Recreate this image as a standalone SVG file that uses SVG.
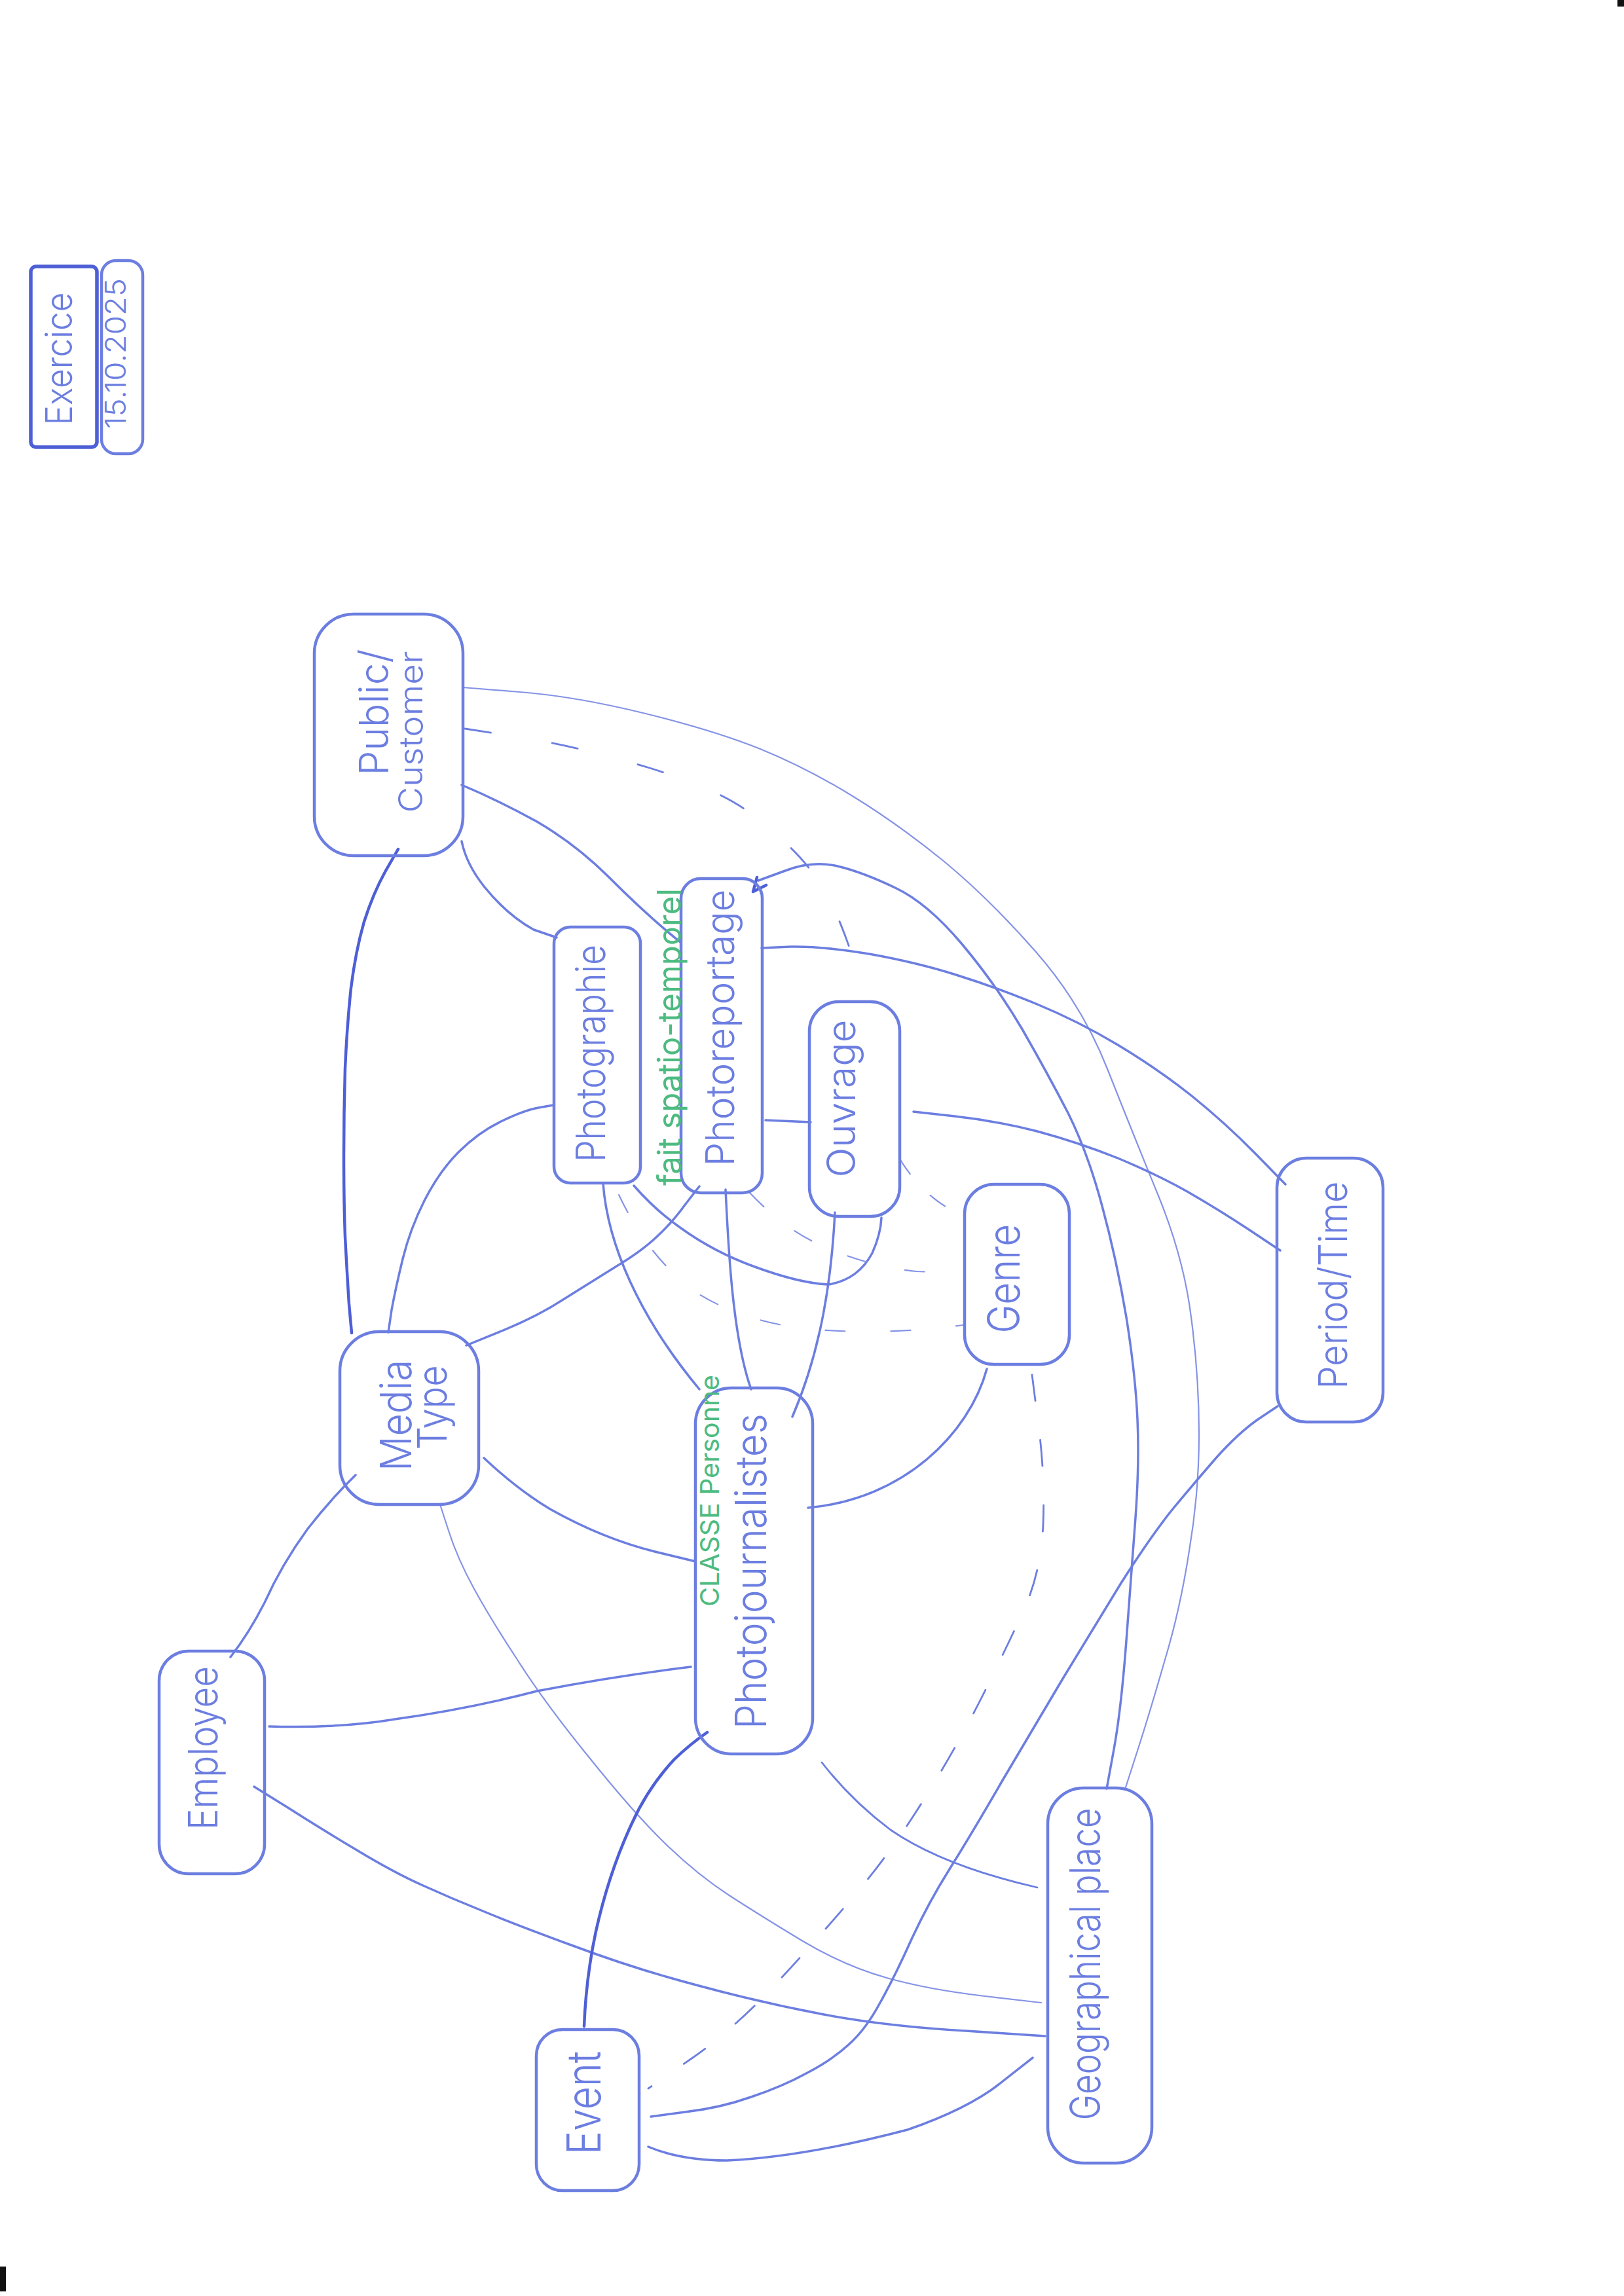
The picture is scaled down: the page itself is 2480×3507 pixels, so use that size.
<svg xmlns="http://www.w3.org/2000/svg" width="2480" height="3507" viewBox="0 0 2480 3507">
<style>
.box{fill:none;stroke:#6c7ee0;stroke-width:4.5;stroke-linejoin:round}
.ln{fill:none;stroke:#6c7ee0;stroke-width:3.5;stroke-linecap:round;stroke-linejoin:round}
.dk{stroke:#4e5fd6;stroke-width:4.5}
.thin{stroke:#8593e6;stroke-width:2.2}
.mid{stroke-width:2.8}
.dash{stroke-dasharray:40 60}
.dash2{stroke-dasharray:28 45}
.lbl{font-family:"Inter","Open Sans","Liberation Sans",sans-serif;font-weight:300;fill:#6c7ee0;text-anchor:middle}
.grn{fill:#4dbb80;font-weight:400}
</style>
<rect width="2480" height="3507" fill="#ffffff"/>
<rect x="0" y="3462" width="9" height="38" fill="#111"/>
<rect x="2470" y="0" width="10" height="10" fill="#111"/>

<g id="connectors">
  <path class="ln dk" d="M 608 1297 L 589 1330 Q 570 1364 556 1408 Q 543 1453 536 1509 Q 530 1565 527 1632 Q 525 1700 525 1767 Q 525 1834 527 1889 Q 530 1945 533 1992 L 537 2036"/>
  <path class="ln" d="M 705 1285 Q 712 1320 740 1355 Q 775 1398 815 1420 L 850 1432"/>
  <path class="ln" d="M 705 1199 Q 760 1222 820 1255 Q 880 1290 930 1340 Q 990 1400 1040 1440"/>
  <path class="ln thin" d="M 707 1050 L 794 1057 Q 881 1064 986 1090 Q 1091 1116 1161 1144 Q 1232 1173 1302 1216 Q 1372 1259 1442 1316 Q 1512 1374 1582 1454 Q 1653 1535 1692 1635 Q 1732 1736 1770 1829 Q 1808 1923 1819 2012 Q 1831 2102 1831 2191 Q 1831 2280 1816 2369 Q 1802 2459 1779 2535 Q 1757 2612 1738 2671 L 1719 2730"/>
  <path class="ln mid" style="stroke-dasharray:40 95" d="M 710 1113 L 800 1127 Q 890 1142 992 1173 Q 1095 1205 1140 1238 Q 1186 1271 1222 1310 Q 1258 1350 1279 1400 Q 1300 1450 1309 1488 L 1318 1527"/>
  <path class="ln" d="M 1158 1345 L 1199 1330 Q 1240 1314 1279 1323 Q 1317 1332 1367 1356 Q 1416 1379 1469 1442 Q 1521 1504 1561 1572 Q 1600 1640 1631 1700 Q 1661 1760 1683 1842 Q 1705 1923 1720 2012 Q 1734 2100 1737 2168 Q 1740 2236 1734 2318 Q 1728 2400 1720 2506 Q 1712 2612 1701 2672 L 1690 2732"/>
  <path class="ln dk" d="M 1150 1362 l 6 -22 M 1150 1362 l 20 -10"/>
  <path class="ln" d="M 1163 1448 L 1208 1446 Q 1254 1445 1327 1457 Q 1400 1470 1460 1489 Q 1521 1508 1584 1534 Q 1647 1560 1707 1596 Q 1767 1632 1820 1674 Q 1872 1716 1917 1762 L 1963 1809"/>
  <path class="ln" d="M 1169 1711 L 1238 1714"/>
  <path class="ln" d="M 1068 1812 L 1047 1839 Q 1027 1867 1003 1889 Q 980 1911 940 1935 Q 900 1960 860 1985 Q 820 2011 766 2033 L 712 2055"/>
  <path class="ln" d="M 1108 1817 C 1112 1900 1118 2040 1147 2122"/>
  <path class="ln" d="M 845 1688 L 822 1692 Q 800 1696 765 1713 Q 730 1730 700 1760 Q 671 1789 648 1834 Q 626 1878 615 1923 Q 604 1968 598 2001 L 593 2035"/>
  <path class="ln" d="M 921 1808 C 928 1900 975 2010 1068 2122"/>
  <path class="ln" d="M 968 1811 Q 1000 1848 1040 1876 Q 1090 1912 1150 1934 Q 1220 1960 1265 1962 Q 1310 1955 1332 1914 Q 1345 1885 1346 1860"/>
  <path class="ln" d="M 1395 1698 L 1458 1705 Q 1521 1712 1584 1728 Q 1647 1745 1707 1769 Q 1767 1794 1813 1820 Q 1860 1847 1907 1878 L 1955 1910"/>
  <path class="ln" d="M 1275 1852 C 1270 1950 1255 2060 1210 2164"/>
  <path class="ln" d="M 1507 2091 C 1480 2190 1380 2290 1234 2303"/>
  <path class="ln mid dash" d="M 1576 2100 L 1586 2178 Q 1596 2255 1593 2328 Q 1590 2400 1564 2458 Q 1538 2515 1499 2593 Q 1460 2670 1410 2750 Q 1360 2830 1305 2895 Q 1250 2960 1185 3030 Q 1120 3100 1055 3145 L 990 3190"/>
  <path class="ln thin dash2" d="M 1374 1770 Q 1410 1830 1470 1857"/>
  <path class="ln thin" style="stroke-dasharray:30 60" d="M 1145 1822 Q 1200 1880 1260 1905 Q 1330 1935 1400 1942 L 1470 1945"/>
  <path class="ln thin" style="stroke-dasharray:30 70" d="M 945 1825 Q 990 1920 1060 1972 Q 1130 2018 1234 2030 Q 1355 2040 1470 2024"/>
  <path class="ln" d="M 543 2253 Q 505 2290 470 2335 Q 430 2390 404 2448 Q 380 2495 352 2531"/>
  <path class="ln" d="M 739 2227 Q 790 2275 840 2305 Q 920 2350 1000 2370 L 1062 2385"/>
  <path class="ln thin" d="M 672 2298 L 685 2338 Q 698 2379 723 2425 Q 748 2471 790 2535 Q 831 2600 901 2686 Q 971 2773 1019 2819 Q 1067 2865 1115 2896 Q 1163 2927 1226 2965 Q 1290 3003 1354 3021 Q 1418 3039 1504 3049 L 1590 3059"/>
  <path class="ln mid" d="M 1255 2692 Q 1300 2750 1360 2795 Q 1440 2850 1584 2883"/>
  <path class="ln" d="M 411 2637 Q 520 2640 603 2626 Q 717 2610 820 2583 Q 940 2560 1055 2546"/>
  <path class="ln" d="M 388 2729 L 438 2760 Q 488 2792 545 2826 Q 603 2861 646 2880 Q 690 2900 735 2918 Q 780 2937 875 2972 Q 971 3008 1067 3033 Q 1163 3059 1258 3077 Q 1354 3095 1475 3102 L 1596 3110"/>
  <path class="ln dk" d="M 1080 2646 Q 1054 2664 1030 2687 Q 990 2730 965 2785 Q 930 2860 910 2950 Q 895 3020 892 3095"/>
  <path class="ln" d="M 994 3233 L 1046 3226 Q 1099 3220 1147 3203 Q 1195 3187 1233 3166 Q 1271 3146 1296 3123 Q 1322 3100 1344 3059 Q 1367 3018 1392 2962 Q 1418 2906 1450 2855 Q 1482 2804 1530 2721 Q 1579 2638 1623 2564 Q 1668 2490 1712 2418 Q 1757 2347 1790 2306 Q 1824 2265 1857 2227 Q 1891 2189 1921 2168 L 1951 2148"/>
  <path class="ln" d="M 990 3279 Q 1040 3300 1110 3300 Q 1226 3295 1386 3253 Q 1481 3220 1530 3180 L 1577 3143"/>
</g>

<g id="exercice">
  <rect class="box" style="stroke:#4e5fd6;stroke-width:5.5" x="47" y="407" width="101" height="276" rx="8"/>
  <text class="lbl" font-size="56" textLength="203" lengthAdjust="spacingAndGlyphs" transform="translate(110,548) rotate(-90)">Exercice</text>
</g>
<g id="date">
  <rect class="box" x="155" y="398" width="63" height="295" rx="22"/>
  <text class="lbl" font-size="44" textLength="230" lengthAdjust="spacingAndGlyphs" transform="translate(192,540) rotate(-90)">15.10.2025</text>
</g>
<g id="public-customer">
  <rect class="box" x="480" y="938" width="227" height="369" rx="60"/>
  <text class="lbl" font-size="62" textLength="193" lengthAdjust="spacingAndGlyphs" transform="translate(593,1088) rotate(-90)">Public/</text>
  <text class="lbl" font-size="50" textLength="247" lengthAdjust="spacingAndGlyphs" transform="translate(645,1118) rotate(-90)">Customer</text>
</g>
<g id="photographie">
  <rect class="box" x="846" y="1416" width="132" height="391" rx="25"/>
  <text class="lbl" font-size="62" textLength="332" lengthAdjust="spacingAndGlyphs" transform="translate(924,1609) rotate(-90)">Photographie</text>
</g>
<g id="photoreportage">
  <rect class="box" x="1040" y="1342" width="124" height="480" rx="30"/>
  <text class="lbl grn" font-size="50" textLength="454" lengthAdjust="spacingAndGlyphs" transform="translate(1040,1584) rotate(-90)">fait spatio-temporel</text>
  <text class="lbl" font-size="60" textLength="423" lengthAdjust="spacingAndGlyphs" transform="translate(1121,1570) rotate(-90)">Photoreportage</text>
</g>
<g id="ouvrage">
  <rect class="box" x="1236" y="1530" width="138" height="328" rx="45"/>
  <text class="lbl" font-size="60" textLength="241" lengthAdjust="spacingAndGlyphs" transform="translate(1306,1678) rotate(-90)">Ouvrage</text>
</g>
<g id="genre">
  <rect class="box" x="1473" y="1809" width="160" height="275" rx="45"/>
  <text class="lbl" font-size="68" textLength="167" lengthAdjust="spacingAndGlyphs" transform="translate(1557,1953) rotate(-90)">Genre</text>
</g>
<g id="period-time">
  <rect class="box" x="1950" y="1769" width="162" height="403" rx="45"/>
  <text class="lbl" font-size="60" textLength="317" lengthAdjust="spacingAndGlyphs" transform="translate(2057,1963) rotate(-90)">Period/Time</text>
</g>
<g id="media-type">
  <rect class="box" x="519" y="2034" width="212" height="264" rx="60"/>
  <text class="lbl" font-size="66" textLength="170" lengthAdjust="spacingAndGlyphs" transform="translate(628,2162) rotate(-90)">Media</text>
  <text class="lbl" font-size="62" textLength="129" lengthAdjust="spacingAndGlyphs" transform="translate(682,2150) rotate(-90)">Type</text>
</g>
<g id="employee">
  <rect class="box" x="243" y="2522" width="161" height="340" rx="45"/>
  <text class="lbl" font-size="62" textLength="250" lengthAdjust="spacingAndGlyphs" transform="translate(332,2670) rotate(-90)">Employee</text>
</g>
<g id="photojournalistes">
  <rect class="box" x="1062" y="2120" width="179" height="559" rx="55"/>
  <text class="lbl grn" font-size="40" textLength="354" lengthAdjust="spacingAndGlyphs" transform="translate(1098,2277) rotate(-90)">CLASSE Personne</text>
  <text class="lbl" font-size="66" textLength="482" lengthAdjust="spacingAndGlyphs" transform="translate(1170,2400) rotate(-90)">Photojournalistes</text>
</g>
<g id="event">
  <rect class="box" x="819" y="3100" width="157" height="246" rx="40"/>
  <text class="lbl" font-size="72" textLength="158" lengthAdjust="spacingAndGlyphs" transform="translate(917,3212) rotate(-90)">Event</text>
</g>
<g id="geographical-place">
  <rect class="box" x="1600" y="2731" width="159" height="573" rx="55"/>
  <text class="lbl" font-size="64" textLength="477" lengthAdjust="spacingAndGlyphs" transform="translate(1680,3000) rotate(-90)">Geographical place</text>
</g>
</svg>
